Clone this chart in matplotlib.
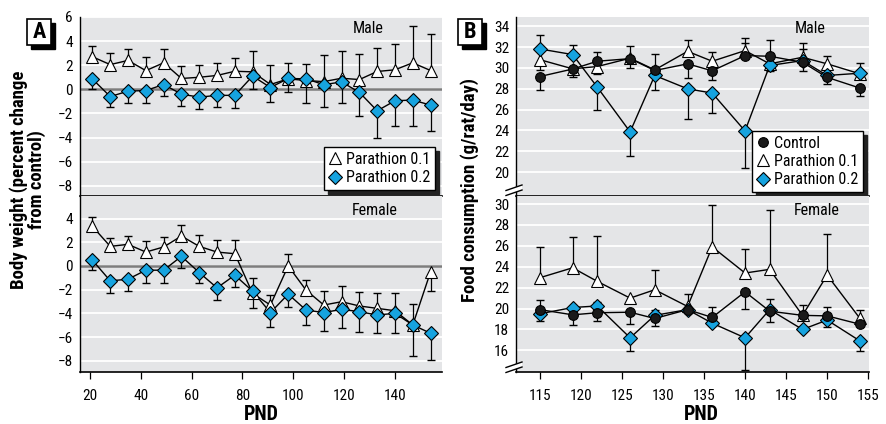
import numpy as np
import matplotlib
matplotlib.use('Agg')
import matplotlib.pyplot as plt
from matplotlib.lines import Line2D
from matplotlib.patches import Rectangle, Polygon

plt.rcParams['font.family'] = ['Roboto Condensed', 'Liberation Sans Narrow', 'Roboto', 'DejaVu Sans']
plt.rcParams['axes.unicode_minus'] = True

# ---------------- Panel A: body weight (% change from control) ----------------
pnd_a = [21, 28, 35, 42, 49, 56, 63, 70, 77, 84, 91, 98, 105, 112, 119, 126, 133, 140, 147, 154]

a_male_p01 = [2.7, 2.05, 2.4, 1.55, 2.2, 0.9, 1.0, 1.15, 1.5, 1.45, 0.4, 0.87, 0.73, 0.64, 0.92, 0.81, 1.48, 1.62, 2.2, 1.56]
a_male_p01_hi = [0.9, 0.95, 0.95, 1.1, 1.15, 1.0, 1.0, 1.05, 1.1, 1.7, 1.65, 1.33, 1.37, 2.23, 2.23, 2.15, 1.95, 2.12, 3.04, 3.01]
a_male_p01_lo = [0] * 20
a_male_p02 = [0.85, -0.6, -0.15, -0.1, 0.4, -0.4, -0.65, -0.5, -0.5, 1.1, 0.15, 0.9, 0.87, 0.39, 0.61, -0.25, -1.78, -0.95, -0.89, -1.31]
a_male_p02_lo = [0.85, 0.85, 1.0, 1.05, 0.95, 0.95, 0.95, 0.95, 1.05, 1.1, 1.24, 1.1, 1.97, 1.82, 1.78, 1.95, 2.22, 2.09, 2.15, 2.15]
a_male_p02_hi = [0] * 20

a_fem_p01 = [3.33, 1.65, 1.82, 1.17, 1.6, 2.52, 1.65, 1.17, 1.03, -2.32, -3.3, 0.0, -2.04, -3.3, -3.02, -3.38, -3.58, -3.78, -4.98, -0.5]
a_fem_p01_hi = [0.78, 0.73, 0.73, 0.9, 0.86, 0.95, 0.98, 0.98, 1.12, 1.34, 0.84, 0.98, 0.84, 1.2, 1.31, 1.14, 1.26, 1.46, 1.74, 0]
a_fem_p01_lo = [0] * 19 + [1.63]
a_fem_p02 = [0.48, -1.26, -1.12, -0.36, -0.36, 0.81, -0.56, -1.85, -0.78, -2.13, -3.94, -2.38, -3.72, -3.94, -3.66, -3.86, -4.14, -4.0, -4.98, -5.68]
a_fem_p02_lo = [0.84, 1.01, 1.01, 1.04, 1.04, 0.95, 0.92, 1.03, 1.04, 1.39, 1.18, 1.06, 1.26, 1.51, 1.54, 1.68, 1.48, 1.62, 2.66, 2.24]
a_fem_p02_hi = [0] * 20

a_xticks = [20, 40, 60, 80, 100, 120, 140]
a_yticks_male = [6, 4, 2, 0, -2, -4, -6, -8]
a_yticks_fem = [4, 2, 0, -2, -4, -6, -8]

# ---------------- Panel B: food consumption (g/rat/day) ----------------
pnd_b = [115, 119, 122, 126, 129, 133, 136, 140, 143, 147, 150, 154]

b_male_ctrl = [29.18, 29.9, 30.65, 30.9, 29.76, 30.4, 29.73, 31.19, 31.13, 30.55, 29.1, 28.07]
b_male_ctrl_lo = [1.28, 0.72, 0, 0.92, 1.92, 1.34, 0.93, 0, 0, 0, 0, 0.8]
b_male_ctrl_hi = [0, 0, 0.93, 0, 0, 0, 0, 1.18, 1.59, 1.28, 0, 0]
b_male_p01 = [30.8, 29.92, 30.14, 30.94, 29.82, 31.6, 30.65, 31.67, 30.4, 31.03, 30.4, 29.44]
b_male_p01_lo = [0.98, 0, 0.7, 0, 0, 0, 0, 0, 0, 0, 0, 0]
b_male_p01_hi = [0, 0, 0, 1.15, 1.53, 1.1, 0.93, 1.21, 0, 1.37, 0.79, 1.02]
b_male_p02 = [31.83, 31.29, 28.16, 23.86, 29.28, 28.0, 27.59, 23.95, 30.24, 30.71, 29.28, 29.5]
b_male_p02_lo = [0, 0, 2.23, 2.3, 0, 2.87, 1.88, 3.54, 0.54, 1.01, 0.8, 0]
b_male_p02_hi = [1.34, 0.92, 0, 0, 0, 0, 0, 0, 0, 0, 0, 0]

b_fem_ctrl = [19.9, 19.4, 19.6, 19.65, 19.05, 19.9, 19.15, 21.6, 19.75, 19.35, 19.3, 18.5]
b_fem_ctrl_lo = [0, 1.0, 0.8, 1.15, 0.75, 0, 0, 1.65, 0, 0, 0, 0]
b_fem_ctrl_hi = [0.95, 0, 0, 0, 0, 0, 1.0, 0, 1.15, 0, 0.85, 0]
b_fem_p01 = [22.95, 23.9, 22.6, 21.0, 21.8, 20.2, 25.9, 23.4, 23.75, 19.35, 23.2, 19.05]
b_fem_p01_lo = [0] * 12
b_fem_p01_hi = [2.9, 2.95, 4.35, 0, 1.9, 1.2, 4.0, 2.3, 5.65, 0.95, 3.9, 0.85]
b_fem_p02 = [19.5, 20.1, 20.25, 17.2, 19.35, 19.9, 18.6, 17.2, 19.9, 18.0, 18.9, 16.9]
b_fem_p02_lo = [0.7, 0, 0, 1.25, 0, 0, 0, 3.1, 1.2, 0, 0.7, 0.95]
b_fem_p02_hi = [0, 0, 0.4, 0, 0.55, 0, 0, 0, 0, 0, 0, 0]

b_xticks = [115, 120, 125, 130, 135, 140, 145, 150, 155]
b_yticks_male = [34, 32, 30, 28, 26, 24, 22, 20]
b_yticks_fem = [30, 28, 26, 24, 22, 20, 18, 16]

labels = ['Control', 'Parathion 0.1', 'Parathion 0.2']

# ---------------- styling ----------------
BG = '#e4e5e7'
BLUE = '#16a3df'
CAP = 5.5
W, H = 886, 424
TICK_FS = 11

STY = {
    'ctrl': dict(marker='o', mfc='#1a1a1a', ms=7.0, z=5),
    'p01': dict(marker='^', mfc='white', ms=8.5, z=3),
    'p02': dict(marker='D', mfc=BLUE, ms=7.0, z=4),
}


def draw_series(ax, x, y, lo, hi, kind):
    s = STY[kind]
    x = np.asarray(x, float); y = np.asarray(y, float)
    lo = np.asarray(lo, float); hi = np.asarray(hi, float)
    ax.plot(x, y, color='black', lw=1.0, zorder=2)
    for d, sign in ((lo, -1), (hi, 1)):
        m = d > 0
        if m.any():
            ends = y[m] + sign * d[m]
            ax.vlines(x[m], y[m], ends, color='black', lw=0.9, zorder=2.5)
            ax.plot(x[m], ends, ls='none', marker='_', ms=CAP, mew=1.0,
                    color='black', zorder=2.5)
    ax.plot(x, y, ls='none', marker=s['marker'], mfc=s['mfc'], mec='black',
            ms=s['ms'], mew=0.8, zorder=s['z'])


def fig_rect(l, t, r, b):
    return [l / W, 1 - b / H, (r - l) / W, (b - t) / H]


def style_ax(ax, yticks, ylim, xlim, bottom):
    ax.set_facecolor(BG)
    ax.set_xlim(*xlim)
    ax.set_ylim(*ylim)
    ax.set_yticks(yticks)
    ax.set_yticklabels([f'{t:g}'.replace('-', '\u2212') for t in yticks])
    ax.grid(axis='y', color='white', lw=1.3)
    ax.set_axisbelow(True)
    for sp in ('top', 'right'):
        ax.spines[sp].set_visible(False)
    ax.spines['left'].set_linewidth(1.0)
    ax.spines['bottom'].set_linewidth(1.2)
    ax.tick_params(axis='y', length=0, pad=5, labelsize=TICK_FS)
    if bottom:
        ax.tick_params(axis='x', direction='out', length=5, width=0.9, pad=7, labelsize=TICK_FS)
    else:
        ax.tick_params(axis='x', length=0, labelbottom=False)


fig = plt.figure(figsize=(W / 100, H / 100), dpi=100)

# Panel A
axA1 = fig.add_axes(fig_rect(80, 17, 442, 196))
axA2 = fig.add_axes(fig_rect(80, 196, 442, 372))
style_ax(axA1, a_yticks_male, (-8.85, 6.0), (16.1, 158.5), False)
style_ax(axA2, a_yticks_fem, (-8.95, 5.9), (16.1, 158.5), True)
axA2.set_xticks(a_xticks)
for ax in (axA1, axA2):
    ax.axhline(0, color='#7d7d7d', lw=1.8, zorder=1.5)

draw_series(axA1, pnd_a, a_male_p01, a_male_p01_lo, a_male_p01_hi, 'p01')
draw_series(axA1, pnd_a, a_male_p02, a_male_p02_lo, a_male_p02_hi, 'p02')
draw_series(axA2, pnd_a, a_fem_p01, a_fem_p01_lo, a_fem_p01_hi, 'p01')
draw_series(axA2, pnd_a, a_fem_p02, a_fem_p02_lo, a_fem_p02_hi, 'p02')

axA1.text(0.796, 0.933, 'Male', transform=axA1.transAxes, ha='center', va='center', fontsize=11.5)
axA2.text(0.815, 0.92, 'Female', transform=axA2.transAxes, ha='center', va='center', fontsize=11.5)

# Panel B
axB1 = fig.add_axes(fig_rect(516, 17, 869, 196))
axB2 = fig.add_axes(fig_rect(516, 196, 869, 372))
style_ax(axB1, b_yticks_male, (17.7, 34.9), (112.1, 155.1), False)
style_ax(axB2, b_yticks_fem, (13.93, 30.77), (112.1, 155.1), True)
axB2.set_xticks(b_xticks)

draw_series(axB1, pnd_b, b_male_p01, b_male_p01_lo, b_male_p01_hi, 'p01')
draw_series(axB1, pnd_b, b_male_p02, b_male_p02_lo, b_male_p02_hi, 'p02')
draw_series(axB1, pnd_b, b_male_ctrl, b_male_ctrl_lo, b_male_ctrl_hi, 'ctrl')
draw_series(axB2, pnd_b, b_fem_p01, b_fem_p01_lo, b_fem_p01_hi, 'p01')
draw_series(axB2, pnd_b, b_fem_p02, b_fem_p02_lo, b_fem_p02_hi, 'p02')
draw_series(axB2, pnd_b, b_fem_ctrl, b_fem_ctrl_lo, b_fem_ctrl_hi, 'ctrl')

axB1.text(0.833, 0.933, 'Male', transform=axB1.transAxes, ha='center', va='center', fontsize=11.5)
axB2.text(0.853, 0.92, 'Female', transform=axB2.transAxes, ha='center', va='center', fontsize=11.5)


def handle(kind):
    s = STY[kind]
    return Line2D([], [], ls='none', marker=s['marker'], mfc=s['mfc'], mec='black',
                  ms=s['ms'], mew=0.8)


leg_kw = dict(frameon=True, fancybox=False, framealpha=1, edgecolor='black',
              fontsize=11.5, handlelength=0.8, handletextpad=0.3, borderpad=0.3,
              labelspacing=0.2, borderaxespad=0,
              shadow={'color': '#222222', 'alpha': 1, 'ox': 3, 'oy': -3})
legA = axA1.legend([handle('p01'), handle('p02')], labels[1:], loc='lower right',
                   bbox_to_anchor=(0.981, 0.034), **leg_kw)
legA.get_frame().set_linewidth(1.0)
legB = axB1.legend([handle('ctrl'), handle('p01'), handle('p02')], labels, loc='lower right',
                   bbox_to_anchor=(0.983, 0.022), **leg_kw)
legB.get_frame().set_linewidth(1.0)
legA.set_zorder(10)
legB.set_zorder(10)

# axis-break marks on panel B
for yc in (188, 365):
    x0, x1 = 506, 522
    pts = [(x0, yc + 2.5), (x1, yc - 3.0), (x1, yc + 2.0), (x0, yc + 7.5)]
    pts_f = [(px / W, 1 - py / H) for px, py in pts]
    fig.add_artist(Polygon(pts_f, closed=True, transform=fig.transFigure, facecolor='white',
                           edgecolor='none', zorder=20))
    for off in (0, 5):
        fig.add_artist(Line2D([x0 / W, x1 / W], [1 - (yc + 2.5 + off) / H, 1 - (yc - 3.0 + off) / H],
                              transform=fig.transFigure, color='black', lw=1.0, zorder=21))

# axis labels
fig.text(28 / W, 1 - 180 / H, 'Body weight (percent change\nfrom control)', rotation=90,
         ha='center', va='center', fontsize=13.5, fontweight='bold', linespacing=0.95)
fig.text(470 / W, 1 - 190 / H, 'Food consumption (g/rat/day)', rotation=90,
         ha='center', va='center', fontsize=13.5, fontweight='bold')
fig.text(261 / W, 1 - 415 / H, 'PND', ha='center', va='center', fontsize=14.5, fontweight='bold')
fig.text(701 / W, 1 - 415 / H, 'PND', ha='center', va='center', fontsize=14.5, fontweight='bold')

# panel letter boxes
for letter, (l, t) in (('A', (27, 19)), ('B', (458, 19))):
    bw, bh, sh = 24, 26, 4
    fig.add_artist(Rectangle(((l + sh) / W, 1 - (t + bh + sh) / H), bw / W, bh / H,
                             transform=fig.transFigure, facecolor='black', edgecolor='black', zorder=30))
    fig.add_artist(Rectangle((l / W, 1 - (t + bh) / H), bw / W, bh / H,
                             transform=fig.transFigure, facecolor='white', edgecolor='black',
                             lw=1.2, zorder=31))
    fig.text((l + bw / 2) / W, 1 - (t + bh / 2) / H, letter, ha='center', va='center',
             fontsize=16, fontweight='bold', zorder=32)

fig.savefig('out.png', dpi=100)
